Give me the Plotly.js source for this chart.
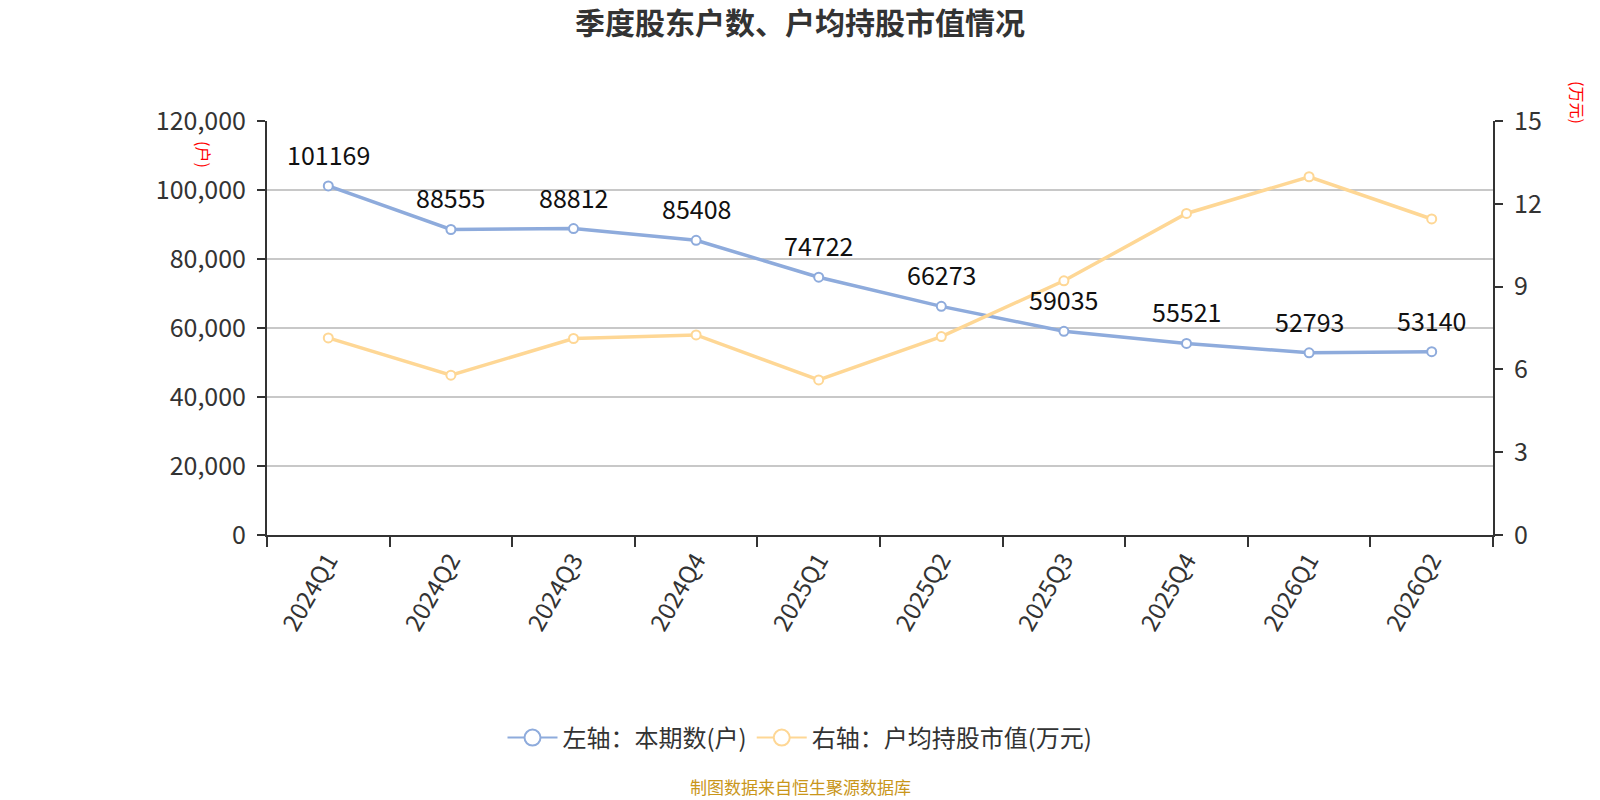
<!DOCTYPE html>
<html>
<head>
<meta charset="utf-8">
<script src="https://cdn.plot.ly/plotly-3.0.1.min.js"></script>
<style>html,body{margin:0;padding:0;background:#fff;}#chart{width:1600px;height:800px;}</style>
</head>
<body>
<div id="chart"></div>
<script>
const categories = ['2024Q1','2024Q2','2024Q3','2024Q4','2025Q1','2025Q2','2025Q3','2025Q4','2026Q1','2026Q2'];
const holders = [101169, 88555, 88812, 85408, 74722, 66273, 59035, 55521, 52793, 53140];
const avgValue = [7.14, 5.79, 7.12, 7.25, 5.62, 7.19, 9.21, 11.65, 12.98, 11.45];
const leftTicks = [0, 20000, 40000, 60000, 80000, 100000, 120000];
const rightTicks = [0, 3, 6, 9, 12, 15];
const seriesNames = ['左轴：本期数(户)', '右轴：户均持股市值(万元)'];
const titleText = '季度股东户数、户均持股市值情况';
const sourceText = '制图数据来自恒生聚源数据库';

const FONT = '"Noto Sans CJK SC", "Noto Sans", sans-serif';
const BLUE = '#8eabdc';
const YELLOW = '#fed795';

const L = 267, R = 1493, T = 121, B = 535, W = 1600, H = 800;
const px = x => (x - L) / (R - L);
const py = y => (B - y) / (B - T);

const traces = [
  {
    x: categories, y: holders, type: 'scatter', mode: 'lines+markers',
    line: {color: BLUE, width: 3.5},
    marker: {symbol: 'circle', size: 9, color: '#fff', line: {color: BLUE, width: 2}},
    yaxis: 'y', showlegend: false, cliponaxis: false
  },
  {
    x: categories, y: avgValue, type: 'scatter', mode: 'lines+markers',
    line: {color: YELLOW, width: 3.5},
    marker: {symbol: 'circle', size: 9, color: '#fff', line: {color: YELLOW, width: 2}},
    yaxis: 'y2', showlegend: false, cliponaxis: false
  },
  {
    x: [null], y: [null], type: 'scatter', mode: 'lines+markers', name: seriesNames[0],
    line: {color: BLUE, width: 2},
    marker: {symbol: 'circle', size: 16, color: '#fff', line: {color: BLUE, width: 2}},
    yaxis: 'y', showlegend: true
  },
  {
    x: [null], y: [null], type: 'scatter', mode: 'lines+markers', name: seriesNames[1],
    line: {color: YELLOW, width: 2},
    marker: {symbol: 'circle', size: 16, color: '#fff', line: {color: YELLOW, width: 2}},
    yaxis: 'y2', showlegend: true
  }
];

const labelAnns = categories.map((c, i) => ({
  x: c, y: holders[i], xref: 'x', yref: 'y', text: String(holders[i]),
  showarrow: false, yanchor: 'bottom', xanchor: 'center', yshift: 12,
  font: {family: FONT, size: 25, color: '#111'}
}));

const layout = {
  width: W, height: H,
  paper_bgcolor: '#fff', plot_bgcolor: '#fff',
  margin: {l: L, r: W - R, t: T, b: H - B, pad: 0},
  font: {family: FONT, color: '#333'},
  title: {text: '<b>' + titleText + '</b>', x: 0.5, xanchor: 'center', y: 1 - 23 / H, yanchor: 'middle',
          font: {family: FONT, size: 30, color: '#333'}},
  xaxis: {
    type: 'category', categoryarray: categories, tickson: 'boundaries',
    showline: true, linecolor: '#333', linewidth: 2,
    ticks: 'outside', ticklen: 10, tickwidth: 2, tickcolor: '#333',
    showgrid: false, tickangle: -60,
    tickfont: {family: FONT, size: 24, color: '#333'},
    range: [-0.5, categories.length - 0.5], fixedrange: true
  },
  yaxis: {
    range: [0, 120000], tickvals: leftTicks, tickformat: ',',
    showline: true, linecolor: '#333', linewidth: 2,
    ticks: 'outside', ticklen: 8, tickwidth: 2, tickcolor: '#333',
    showgrid: true, gridcolor: '#c8c8c8', gridwidth: 2, zeroline: false,
    tickfont: {family: FONT, size: 25, color: '#333'}, ticklabelstandoff: 6
  },
  yaxis2: {
    range: [0, 15], tickvals: rightTicks, overlaying: 'y', side: 'right',
    showline: true, linecolor: '#333', linewidth: 2,
    ticks: 'outside', ticklen: 8, tickwidth: 2, tickcolor: '#333',
    showgrid: false, zeroline: false,
    tickfont: {family: FONT, size: 25, color: '#333'}, ticklabelstandoff: 6
  },
  legend: {
    orientation: 'h', x: px(800), xanchor: 'center', y: py(738), yanchor: 'middle',
    font: {family: FONT, size: 24, color: '#333'}, itemsizing: 'trace',
    bgcolor: 'rgba(0,0,0,0)', itemwidth: 50, tracegroupgap: 10
  },
  annotations: labelAnns.concat([
    {text: '(户)', xref: 'paper', yref: 'paper', x: px(204), y: py(154), showarrow: false,
     textangle: 90, font: {family: FONT, size: 16, color: '#f00'}, xanchor: 'center', yanchor: 'middle'},
    {text: '(万元)', xref: 'paper', yref: 'paper', x: px(1578), y: py(103), showarrow: false,
     textangle: 90, font: {family: FONT, size: 16, color: '#f00'}, xanchor: 'center', yanchor: 'middle'},
    {text: sourceText, xref: 'paper', yref: 'paper', x: px(800), y: py(786), showarrow: false,
     font: {family: FONT, size: 17, color: '#c9961a'}, xanchor: 'center', yanchor: 'middle'}
  ]),
  showlegend: true
};

Plotly.newPlot('chart', traces, layout, {displayModeBar: false, staticPlot: true});
</script>
</body>
</html>
